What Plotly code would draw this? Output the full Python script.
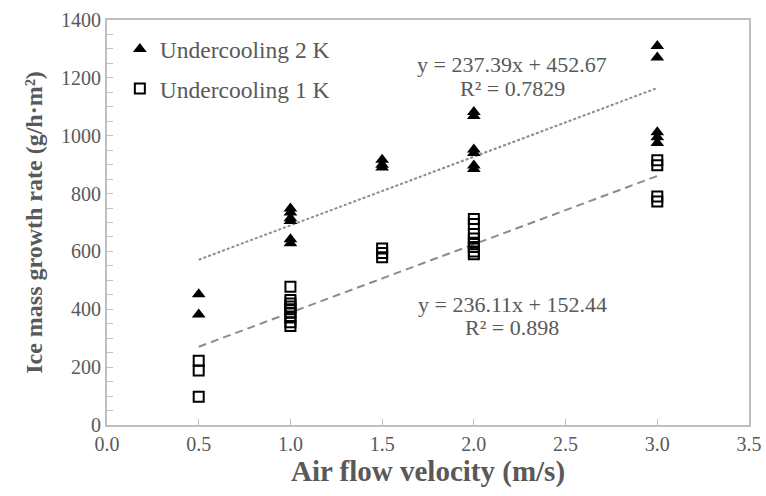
import plotly.graph_objects as go

# Undercooling 2 K (triangles)
x_2k = [0.5, 0.5,
        1.0, 1.0, 1.0, 1.0, 1.0, 1.0,
        1.5, 1.5, 1.5,
        2.0, 2.0, 2.0, 2.0, 2.0, 2.0,
        3.0, 3.0, 3.0, 3.0, 3.0]
y_2k = [452, 382,
        748, 735, 715, 705, 642, 628,
        917, 900, 890,
        1082, 1068, 952, 940, 897, 885,
        1310, 1270, 1012, 995, 975]

# Undercooling 1 K (squares)
x_1k = [0.5, 0.5, 0.5,
        1.0, 1.0, 1.0, 1.0, 1.0, 1.0, 1.0, 1.0, 1.0,
        1.5, 1.5, 1.5,
        2.0, 2.0, 2.0, 2.0, 2.0, 2.0, 2.0, 2.0,
        3.0, 3.0, 3.0, 3.0]
y_1k = [222, 188, 98,
        478, 432, 420, 410, 400, 388, 372, 355, 342,
        610, 595, 580,
        712, 695, 660, 645, 630, 615, 600, 590,
        915, 898, 790, 773]

# Displayed linear fits
fit_2k = (237.39, 452.67)
fit_1k = (236.11, 152.44)
fit_x = [0.5, 3.0]

x_ticks = [0.0, 0.5, 1.0, 1.5, 2.0, 2.5, 3.0, 3.5]
y_ticks = [0, 200, 400, 600, 800, 1000, 1200, 1400]

gray = "#595959"
font = "Liberation Serif"

fig = go.Figure()
fig.add_trace(go.Scatter(
    x=fit_x, y=[fit_2k[0] * v + fit_2k[1] for v in fit_x], mode="lines",
    line=dict(color="#8c8c8c", width=2, dash="3px,2px"), showlegend=False, hoverinfo="skip"))
fig.add_trace(go.Scatter(
    x=fit_x, y=[fit_1k[0] * v + fit_1k[1] for v in fit_x], mode="lines",
    line=dict(color="#8c8c8c", width=2, dash="8px,5px"), showlegend=False, hoverinfo="skip"))
fig.add_trace(go.Scatter(
    x=x_2k, y=y_2k, mode="markers", name="Undercooling 2 K", legendgroup="g2",
    marker=dict(symbol="triangle-up", size=12, color="black")))
fig.add_trace(go.Scatter(
    x=x_1k, y=y_1k, mode="markers", name="Undercooling 1 K", legendgroup="g1",
    marker=dict(symbol="square-open", size=10, color="black", line=dict(width=2, color="black"))))

ann_font = dict(family=font, size=22, color=gray)
fig.add_annotation(x=2.21, y=1246, xref="x", yref="y", showarrow=False,
                   text="y = 237.39x + 452.67", font=ann_font)
fig.add_annotation(x=2.21, y=1164, xref="x", yref="y", showarrow=False,
                   text="R² = 0.7829", font=ann_font)
fig.add_annotation(x=2.21, y=417, xref="x", yref="y", showarrow=False,
                   text="y = 236.11x + 152.44", font=ann_font)
fig.add_annotation(x=2.21, y=337, xref="x", yref="y", showarrow=False,
                   text="R² = 0.898", font=ann_font)

fig.update_layout(
    width=766, height=496,
    margin=dict(l=107, r=17, t=20, b=71, autoexpand=False),
    paper_bgcolor="white", plot_bgcolor="white",
    font=dict(family=font, size=20, color=gray),
    legend=dict(x=0.02, y=0.982, xanchor="left", yanchor="top",
                bgcolor="rgba(0,0,0,0)", font=dict(family=font, size=23.5, color=gray),
                tracegroupgap=6, itemwidth=30),
    xaxis=dict(range=[0, 3.5], tickvals=x_ticks, ticktext=[f"{v:.1f}" for v in x_ticks],
               automargin=False,
               showgrid=False, zeroline=False, showline=True, linecolor="#bfbfbf", linewidth=2,
               mirror=True, ticks="inside", ticklen=6, tickcolor="#bfbfbf",
               tickfont=dict(family=font, size=20, color=gray),
               title=dict(text="<b>Air flow velocity (m/s)</b>", font=dict(family=font, size=29, color=gray), standoff=4)),
    yaxis=dict(range=[0, 1400], tickvals=y_ticks, automargin=False,
               showgrid=False, zeroline=False, showline=True, linecolor="#bfbfbf", linewidth=2,
               mirror=True, ticks="inside", ticklen=6, tickcolor="#bfbfbf",
               minor=dict(dtick=50, ticks="inside", ticklen=6, tickcolor="#bfbfbf"),
               tickfont=dict(family=font, size=20, color=gray),
               title=dict(text="<b>Ice mass growth rate (g/h·m²)</b>", font=dict(family=font, size=24, color=gray), standoff=12)),
)

fig.write_html("out.html")
